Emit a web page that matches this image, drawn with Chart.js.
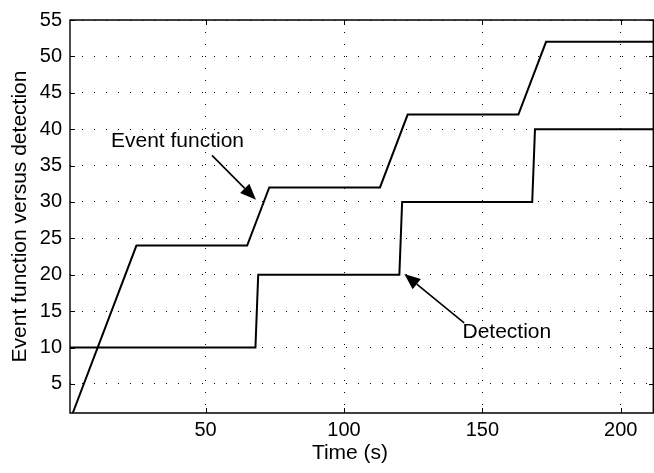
<!DOCTYPE html>
<html>
<head>
<meta charset="utf-8">
<script src="https://cdn.jsdelivr.net/npm/chart.js@4/dist/chart.umd.min.js"></script>
<style>
html,body{margin:0;padding:0;background:#fff;}
#wrap{width:654px;height:473px;position:relative;}
</style>
</head>
<body>
<div id="wrap"><canvas id="c"></canvas></div>
<script>
// ---- data ----
const eventX = [2, 25, 65, 73, 113, 123, 163, 173, 212];
const eventY = [1, 24, 24, 32, 32, 42, 42, 52, 52];
const detectX = [1, 68, 69, 120, 121, 168, 169, 212];
const detectY = [10, 10, 20, 20, 30, 30, 40, 40];
const xTicks = [50, 100, 150, 200];
const yTicks = [5, 10, 15, 20, 25, 30, 35, 40, 45, 50, 55];
const xRange = [1, 212];
const yRange = [1, 55];
const xTitle = 'Time (s)';
const yTitle = 'Event function versus detection';
// annotations (data units)
const noteTexts = ['Event function', 'Detection'];
const noteTextAt = [[15.8, 37.6], [142.8, 11.3]];
const noteArrowFrom = [[52.3, 36.4], [143.4, 13.4]];
const noteArrowTo = [[68.2, 30.3], [121.8, 20.1]];

const FONT = '"Liberation Sans", Arial, Helvetica, sans-serif';

function pts(xs, ys) { return xs.map((v, i) => ({x: v, y: ys[i]})); }

const deco = {
  id: 'deco',
  afterDraw(chart) {
    const {ctx, chartArea: a, scales: {x, y}} = chart;
    ctx.save();
    ctx.strokeStyle = '#000';
    ctx.fillStyle = '#000';
    // frame
    ctx.lineWidth = 1.4;
    ctx.beginPath();
    ctx.moveTo(a.left, a.top); ctx.lineTo(a.right - 0.7, a.top);
    ctx.lineTo(a.right - 0.7, a.bottom); ctx.lineTo(a.left, a.bottom);
    ctx.closePath();
    ctx.stroke();
    // inward ticks
    ctx.lineWidth = 1;
    const tl = 5;
    ctx.beginPath();
    xTicks.forEach(v => {
      const px = Math.round(x.getPixelForValue(v)) + 0.5;
      ctx.moveTo(px, a.bottom); ctx.lineTo(px, a.bottom - tl);
      ctx.moveTo(px, a.top); ctx.lineTo(px, a.top + tl);
    });
    yTicks.forEach(v => {
      const py = Math.round(y.getPixelForValue(v)) + 0.5;
      ctx.moveTo(a.left, py); ctx.lineTo(a.left + tl, py);
      ctx.moveTo(a.right, py); ctx.lineTo(a.right - tl, py);
    });
    ctx.stroke();
    // annotations
    ctx.font = '21px ' + FONT;
    ctx.textAlign = 'left';
    ctx.textBaseline = 'alphabetic';
    noteTexts.forEach((t, i) => {
      ctx.fillText(t, x.getPixelForValue(noteTextAt[i][0]), y.getPixelForValue(noteTextAt[i][1]));
      const x0 = x.getPixelForValue(noteArrowFrom[i][0]), y0 = y.getPixelForValue(noteArrowFrom[i][1]);
      const x1 = x.getPixelForValue(noteArrowTo[i][0]), y1 = y.getPixelForValue(noteArrowTo[i][1]);
      const ang = Math.atan2(y1 - y0, x1 - x0);
      const hl = 16, hw = 6.5;
      const bx = x1 - hl * Math.cos(ang), by = y1 - hl * Math.sin(ang);
      ctx.lineWidth = 1.6;
      ctx.beginPath(); ctx.moveTo(x0, y0); ctx.lineTo(bx, by); ctx.stroke();
      ctx.beginPath();
      ctx.moveTo(x1, y1);
      ctx.lineTo(bx + hw * Math.sin(ang), by - hw * Math.cos(ang));
      ctx.lineTo(bx - hw * Math.sin(ang), by + hw * Math.cos(ang));
      ctx.closePath(); ctx.fill();
    });
    // x title
    ctx.textAlign = 'center';
    ctx.fillText(xTitle, (a.left + a.right) / 2 - 12, 458.5);
    ctx.restore();
  }
};

new Chart(document.getElementById('c'), {
  type: 'line',
  data: {
    datasets: [
      {label: 'Event function', data: pts(eventX, eventY), borderColor: '#000', borderWidth: 2, pointRadius: 0, tension: 0, fill: false},
      {label: 'Detection', data: pts(detectX, detectY), borderColor: '#000', borderWidth: 2, pointRadius: 0, tension: 0, fill: false}
    ]
  },
  options: {
    responsive: true,
    maintainAspectRatio: false,
    animation: false,
    events: [],
    layout: {padding: {top: 12, right: 0, bottom: 0, left: 0}},
    plugins: {legend: {display: false}, tooltip: {enabled: false}},
    scales: {
      x: {
        type: 'linear', min: xRange[0], max: xRange[1],
        afterBuildTicks: s => { s.ticks = xTicks.map(v => ({value: v})); },
        afterFit: s => { s.height = 60; },
        ticks: {color: '#000', font: {family: FONT, size: 20}, padding: 5, maxRotation: 0, autoSkip: false},
        grid: {color: '#000', lineWidth: 1, drawTicks: false},
        border: {display: false, dash: [1, 11]}
      },
      y: {
        type: 'linear', min: yRange[0], max: yRange[1],
        afterBuildTicks: s => { s.ticks = yTicks.map(v => ({value: v})); },
        afterFit: s => { s.width = 70; },
        ticks: {color: '#000', font: {family: FONT, size: 20}, padding: 8, autoSkip: false},
        grid: {color: '#000', lineWidth: 1, drawTicks: false},
        border: {display: false, dash: [1, 11]},
        title: {display: true, text: yTitle, color: '#000', font: {family: FONT, size: 21}, padding: {top: 8, bottom: 0}}
      }
    }
  },
  plugins: [deco]
});
</script>
</body>
</html>
